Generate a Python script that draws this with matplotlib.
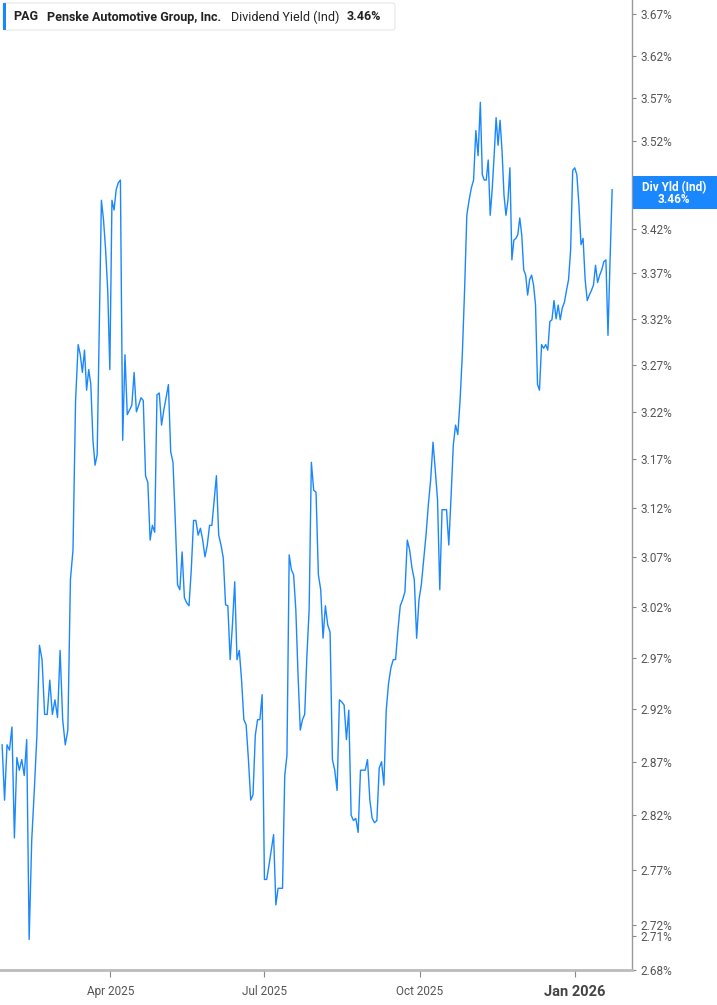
import matplotlib.pyplot as plt
import matplotlib.ticker as mticker
from matplotlib.patches import Rectangle, FancyBboxPatch
import numpy as np
import pandas as pd

# dividend yield (%)
yld = [
    2.886, 2.834, 2.886, 2.881, 2.903, 2.799, 2.874, 2.862, 2.872, 2.857,
    2.891, 2.707, 2.797, 2.843, 2.895, 2.982, 2.968, 2.915, 2.915, 2.948,
    2.915, 2.929, 2.912, 2.977, 2.910, 2.886, 2.900, 3.047, 3.077, 3.232,
    3.292, 3.281, 3.262, 3.286, 3.243, 3.265, 3.249, 3.190, 3.164, 3.175,
    3.308, 3.452, 3.430, 3.396, 3.351, 3.265, 3.452, 3.441, 3.464, 3.472,
    3.475, 3.190, 3.281, 3.217, 3.222, 3.227, 3.262, 3.220, 3.227, 3.235,
    3.232, 3.153, 3.146, 3.087, 3.102, 3.095, 3.238, 3.240, 3.206, 3.222,
    3.235, 3.249, 3.178, 3.167, 3.107, 3.042, 3.037, 3.075, 3.029, 3.024,
    3.021, 3.057, 3.107, 3.107, 3.092, 3.099, 3.087, 3.070, 3.082, 3.102,
    3.102, 3.128, 3.153, 3.092, 3.082, 3.069, 3.022, 3.021, 2.968, 3.002,
    3.045, 2.968, 2.977, 2.948, 2.910, 2.905, 2.872, 2.834, 2.839, 2.895,
    2.910, 2.910, 2.934, 2.761, 2.761, 2.774, 2.788, 2.802, 2.738, 2.753,
    2.753, 2.753, 2.857, 2.876, 3.072, 3.057, 3.052, 3.017, 2.953, 2.900,
    2.910, 2.915, 2.972, 3.017, 3.167, 3.138, 3.136, 3.052, 3.037, 2.989,
    3.021, 3.002, 2.995, 2.872, 2.862, 2.843, 2.929, 2.927, 2.924, 2.891,
    2.919, 2.820, 2.815, 2.817, 2.804, 2.862, 2.862, 2.862, 2.872, 2.834,
    2.817, 2.813, 2.815, 2.864, 2.870, 2.848, 2.919, 2.945, 2.960, 2.968,
    2.968, 2.997, 3.021, 3.027, 3.035, 3.087, 3.077, 3.059, 3.047, 2.989,
    3.027, 3.042, 3.067, 3.092, 3.123, 3.149, 3.188, 3.159, 3.128, 3.037,
    3.118, 3.118, 3.118, 3.082, 3.131, 3.185, 3.206, 3.196, 3.232, 3.281,
    3.351, 3.435, 3.452, 3.466, 3.475, 3.532, 3.503, 3.565, 3.481, 3.475,
    3.475, 3.498, 3.435, 3.464, 3.503, 3.547, 3.515, 3.544, 3.509, 3.458,
    3.435, 3.452, 3.489, 3.385, 3.407, 3.409, 3.413, 3.432, 3.413, 3.374,
    3.368, 3.346, 3.363, 3.368, 3.357, 3.335, 3.249, 3.243, 3.292, 3.288,
    3.292, 3.286, 3.317, 3.319, 3.340, 3.320, 3.335, 3.319, 3.332, 3.338,
    3.351, 3.363, 3.396, 3.486, 3.489, 3.481, 3.447, 3.402, 3.409, 3.363,
    3.340, 3.346, 3.351, 3.357, 3.379, 3.360, 3.368, 3.374, 3.383, 3.385,
    3.302, 3.385, 3.464,
]
# dates for a few notable points (index in yld -> date)
anchor_idx = [0, 11, 30, 50, 118, 134, 186, 207, 237, 272]
anchor_dates = ['2025-01-27', '2025-02-12', '2025-03-13', '2025-04-07',
                '2025-07-08', '2025-07-29', '2025-10-09', '2025-11-06',
                '2025-12-11', '2026-01-23']

yticks = [2.68, 2.71, 2.72, 2.77, 2.82, 2.87, 2.92, 2.97, 3.02, 3.07, 3.12,
          3.17, 3.22, 3.27, 3.32, 3.37, 3.42, 3.52, 3.57, 3.62, 3.67]
xticks = ['2025-04-01', '2025-07-01', '2025-10-01', '2026-01-01']
xlabels = ['Apr 2025', 'Jul 2025', 'Oct 2025', 'Jan 2026']
last = 3.46

anchor_ns = pd.to_datetime(anchor_dates).asi8
dates = pd.to_datetime(np.interp(np.arange(len(yld)), anchor_idx, anchor_ns).astype('int64'))

blue = '#1a87ff'
grey = '#555555'
plt.rcParams['font.family'] = ['Roboto', 'DejaVu Sans']

fig = plt.figure(figsize=(7.17, 10.05), dpi=100)
ax = fig.add_axes([0, 35 / 1005, 632 / 717, 970 / 1005])
ax.plot(dates, yld, color=blue, lw=1.0)

ax.set_yscale('log')
ax.set_ylim(2.68, 3.687)
ax.set_xlim(pd.Timestamp('2025-01-25 18:00'), pd.Timestamp('2026-02-03 18:00'))

ax.yaxis.tick_right()
ax.yaxis.set_minor_locator(mticker.NullLocator())
ax.set_yticks(yticks)
ax.yaxis.set_major_formatter(mticker.FuncFormatter(lambda v, p: f'{v:.2f}%'))
ax.tick_params(axis='y', direction='out', length=3, width=0.8, color='#888888',
               labelsize=8.5, labelcolor=grey, pad=3)

ax.set_xticks(pd.to_datetime(xticks))
ax.set_xticklabels(xlabels)
ax.tick_params(axis='x', direction='out', length=5, width=0.8, color='#888888',
               labelsize=8.5, labelcolor=grey, pad=6)
lbl = ax.get_xticklabels()[-1]
lbl.set_fontweight('bold')
lbl.set_fontsize(10.5)
lbl.set_color('#444444')

for s in ['top', 'left']:
    ax.spines[s].set_visible(False)
ax.spines['right'].set_color('#999999')
ax.spines['right'].set_linewidth(1.0)
ax.spines['bottom'].set_color('#bbbbbb')
ax.spines['bottom'].set_linewidth(2.0)

# header box
fig.patches.append(FancyBboxPatch((3 / 717, 1 - 30 / 1005), 392 / 717, 27 / 1005,
                                  boxstyle='round,pad=0,rounding_size=0.003',
                                  transform=fig.transFigure, fc='white',
                                  ec='#e6e6e6', lw=0.8, zorder=5))
fig.patches.append(Rectangle((3 / 717, 1 - 30 / 1005), 3 / 717, 27 / 1005,
                             transform=fig.transFigure, fc=blue, ec='none', zorder=6))
hy = 1 - 17 / 1005
fig.text(13 / 717, hy, 'PAG', fontsize=9, fontweight='bold', color='#222222',
         va='center', zorder=7)
fig.text(47 / 717, hy, 'Penske Automotive Group, Inc.', fontsize=9,
         fontweight='bold', color='#222222', va='center', zorder=7)
fig.text(231 / 717, hy, 'Dividend Yield (Ind)', fontsize=9, color='#222222',
         va='center', zorder=7)
fig.text(347 / 717, hy, f'{last:.2f}%', fontsize=9, fontweight='bold',
         color='#222222', va='center', zorder=7)

# last value label on the right
ypix = ax.transData.transform((0, last))[1]
ylab = ypix / fig.bbox.height
fig.patches.append(Rectangle((633 / 717, ylab - 16 / 1005), 84 / 717, 33 / 1005,
                             transform=fig.transFigure, fc=blue, ec='none'))
fig.text(674 / 717, ylab + 6 / 1005, 'Div Yld (Ind)', fontsize=8.5,
         fontweight='bold', color='white', ha='center', va='center')
fig.text(674 / 717, ylab - 6 / 1005, f'{last:.2f}%', fontsize=8.5,
         fontweight='bold', color='white', ha='center', va='center')

fig.savefig('out.png', dpi=100)
